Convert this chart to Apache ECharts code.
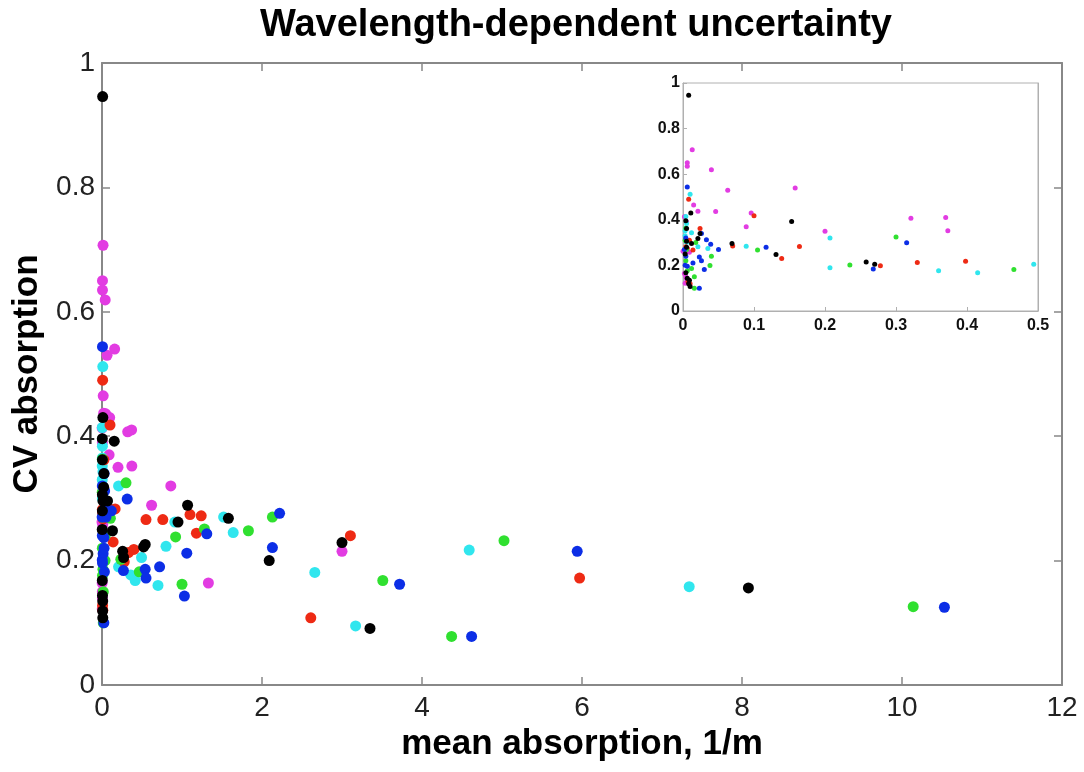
<!DOCTYPE html>
<html>
<head>
<meta charset="utf-8">
<title>Wavelength-dependent uncertainty</title>
<script src="https://cdn.jsdelivr.net/npm/echarts@6/dist/echarts.min.js"></script>
<style>
  html, body { margin: 0; padding: 0; background: #fff; }
  #chart { width: 1084px; height: 772px; }
</style>
</head>
<body>
<div id="chart"></div>
<script>
// [mean absorption (1/m), CV absorption] per wavelength colour
const blackPts = [
  [0.008, 0.946], [0.011, 0.430], [0.004, 0.396], [0.153, 0.392], [0.024, 0.340], [0.005, 0.362],
  [0.021, 0.318], [0.005, 0.306], [0.012, 0.296], [0.069, 0.296], [0.005, 0.280], [0.131, 0.248],
  [0.003, 0.250], [0.258, 0.215], [0.270, 0.205], [0.52, 0.222], [0.54, 0.226], [0.95, 0.262],
  [1.07, 0.289], [1.58, 0.268], [2.09, 0.200], [3.00, 0.229], [3.35, 0.091], [8.08, 0.156],
  [0.004, 0.168], [0.009, 0.135], [0.006, 0.144], [0.008, 0.119], [0.010, 0.108]
]
const magentaPts = [
  [0.013, 0.707], [0.006, 0.650], [0.006, 0.635], [0.040, 0.619], [0.158, 0.540], [0.063, 0.530],
  [0.015, 0.465], [0.021, 0.437], [0.046, 0.436], [0.096, 0.430], [0.089, 0.370], [0.200, 0.350],
  [0.321, 0.407], [0.370, 0.410], [0.373, 0.352], [0.86, 0.320], [0.62, 0.289], [1.33, 0.164],
  [3.00, 0.215], [0.002, 0.413], [0.005, 0.390], [0.000, 0.262], [0.009, 0.258], [0.002, 0.164],
  [0.004, 0.150], [0.005, 0.140], [0.003, 0.122]
]
const bluePts = [
  [0.006, 0.544], [0.004, 0.320], [0.033, 0.312], [0.039, 0.293], [0.050, 0.270], [0.117, 0.280],
  [0.315, 0.299], [0.004, 0.240], [0.023, 0.237], [0.014, 0.211], [0.003, 0.201], [0.006, 0.196],
  [0.026, 0.220], [0.030, 0.182], [0.268, 0.184], [0.023, 0.100], [0.54, 0.186], [0.72, 0.190],
  [0.55, 0.172], [1.03, 0.143], [1.06, 0.212], [1.31, 0.243], [2.13, 0.221], [2.22, 0.276],
  [3.72, 0.162], [4.62, 0.078], [5.94, 0.215], [10.53, 0.125], [0.026, 0.340], [0.002, 0.270]
]
const cyanPts = [
  [0.010, 0.512], [0.004, 0.414], [0.005, 0.384], [0.004, 0.365], [0.003, 0.352], [0.012, 0.343],
  [0.003, 0.330], [0.021, 0.282], [0.035, 0.274], [0.089, 0.284], [0.207, 0.320], [0.207, 0.190],
  [0.360, 0.177], [0.415, 0.168], [0.494, 0.205], [0.70, 0.160], [0.80, 0.223], [0.91, 0.262],
  [1.52, 0.270], [1.64, 0.245], [2.66, 0.181], [3.17, 0.095], [4.59, 0.217], [7.34, 0.158],
  [0.005, 0.300]
]
const redPts = [
  [0.008, 0.490], [0.100, 0.418], [0.024, 0.362], [0.009, 0.310], [0.014, 0.267], [0.070, 0.285],
  [0.164, 0.283], [0.139, 0.230], [0.330, 0.213], [0.398, 0.218], [0.278, 0.198], [0.55, 0.266],
  [0.76, 0.266], [1.10, 0.274], [1.24, 0.272], [1.18, 0.244], [2.61, 0.108], [3.105, 0.240],
  [5.97, 0.172], [0.004, 0.282], [0.006, 0.275], [0.007, 0.128], [0.010, 0.120]
]
const greenPts = [
  [0.004, 0.363], [0.300, 0.325], [0.105, 0.268], [0.235, 0.202], [0.466, 0.182], [0.040, 0.240],
  [0.038, 0.200], [0.016, 0.100], [0.012, 0.186], [0.016, 0.150], [0.92, 0.238], [1.00, 0.162],
  [1.28, 0.251], [1.83, 0.248], [2.13, 0.270], [3.51, 0.168], [4.37, 0.078], [5.025, 0.232],
  [10.14, 0.126], [0.005, 0.270], [0.004, 0.220], [0.006, 0.176], [0.003, 0.310], [0.018, 0.300]
]

const groups = [
  { name: 'magenta', color: '#e23ce2', data: magentaPts },
  { name: 'cyan', color: '#30e6ee', data: cyanPts },
  { name: 'red', color: '#ee2a14', data: redPts },
  { name: 'green', color: '#30e030', data: greenPts },
  { name: 'blue', color: '#0c2ee6', data: bluePts },
  { name: 'black', color: '#000000', data: blackPts }
]

const FONT = 'Liberation Sans, Arial, Helvetica, sans-serif'
const INSET_MAX_X = 0.5

const chart = echarts.init(document.getElementById('chart'))

// axes on the top/right just close the box, ticks only
function frameAxis(gridIndex, pos, min, max, interval, color, tickLen) {
  return {
    gridIndex: gridIndex,
    type: 'value',
    position: pos,
    min: min,
    max: max,
    interval: interval,
    axisLine: { show: true, onZero: false, lineStyle: { color: color, width: gridIndex === 0 ? 2 : 1 } },
    axisTick: { show: true, inside: true, length: tickLen, lineStyle: { color: color, width: gridIndex === 0 ? 1.5 : 1 } },
    axisLabel: { show: false },
    splitLine: { show: false }
  }
}

chart.setOption({
  backgroundColor: '#fff',
  animation: false,
  title: {
    text: 'Wavelength-dependent uncertainty',
    left: 255,
    top: 2,
    textStyle: { fontFamily: FONT, fontSize: 38, fontWeight: 'bold', color: '#000' }
  },
  grid: [
    { left: 102, top: 63, width: 960, height: 622 },
    { left: 683, top: 83, width: 355, height: 228, show: true, backgroundColor: '#fff', borderColor: '#b0b0b0', borderWidth: 1, z: 5 }
  ],
  xAxis: [
    {
      gridIndex: 0,
      type: 'value',
      min: 0,
      max: 12,
      interval: 2,
      name: 'mean absorption, 1/m',
      nameLocation: 'middle',
      nameGap: 36,
      nameTextStyle: { fontFamily: FONT, fontSize: 35, fontWeight: 'bold', color: '#000' },
      axisLine: { show: true, onZero: false, lineStyle: { color: '#888', width: 2 } },
      axisTick: { show: true, inside: true, length: 8, lineStyle: { color: '#888', width: 1.5 } },
      axisLabel: { fontFamily: FONT, fontSize: 28, color: '#222', margin: 9 },
      splitLine: { show: false }
    },
    frameAxis(0, 'top', 0, 12, 2, '#888', 8),
    {
      gridIndex: 1,
      type: 'value',
      min: 0,
      max: INSET_MAX_X,
      interval: 0.1,
      axisLine: { show: true, onZero: false, lineStyle: { color: '#b0b0b0', width: 1 } },
      axisTick: { show: true, inside: true, length: 4, lineStyle: { color: '#b0b0b0' } },
      axisLabel: { fontFamily: FONT, fontSize: 16, fontWeight: 'bold', color: '#111', margin: 7 },
      splitLine: { show: false },
      z: 6
    },
    frameAxis(1, 'top', 0, INSET_MAX_X, 0.1, '#b0b0b0', 4)
  ],
  yAxis: [
    {
      gridIndex: 0,
      type: 'value',
      min: 0,
      max: 1,
      interval: 0.2,
      name: 'CV absorption',
      nameLocation: 'middle',
      nameGap: 43,
      nameTextStyle: { fontFamily: FONT, fontSize: 35, fontWeight: 'bold', color: '#000' },
      axisLine: { show: true, onZero: false, lineStyle: { color: '#888', width: 2 } },
      axisTick: { show: true, inside: true, length: 8, lineStyle: { color: '#888', width: 1.5 } },
      axisLabel: { fontFamily: FONT, fontSize: 28, color: '#222', margin: 7 },
      splitLine: { show: false }
    },
    frameAxis(0, 'right', 0, 1, 0.2, '#888', 8),
    {
      gridIndex: 1,
      type: 'value',
      min: 0,
      max: 1,
      interval: 0.2,
      axisLine: { show: true, onZero: false, lineStyle: { color: '#b0b0b0', width: 1 } },
      axisTick: { show: true, inside: true, length: 4, lineStyle: { color: '#b0b0b0' } },
      axisLabel: { fontFamily: FONT, fontSize: 16, fontWeight: 'bold', color: '#111', margin: 3 },
      splitLine: { show: false },
      z: 6
    },
    frameAxis(1, 'right', 0, 1, 0.2, '#b0b0b0', 4)
  ],
  series: groups.map(g => ({
    name: g.name,
    type: 'scatter',
    xAxisIndex: 0,
    yAxisIndex: 0,
    symbolSize: 11,
    itemStyle: { color: g.color, opacity: 1 },
    data: g.data
  })).concat(groups.map(g => ({
    name: g.name + ' inset',
    type: 'scatter',
    xAxisIndex: 2,
    yAxisIndex: 2,
    symbolSize: 5,
    z: 10,
    itemStyle: { color: g.color, opacity: 1 },
    data: g.data.filter(p => p[0] <= INSET_MAX_X)
  })))
})
</script>
</body>
</html>
